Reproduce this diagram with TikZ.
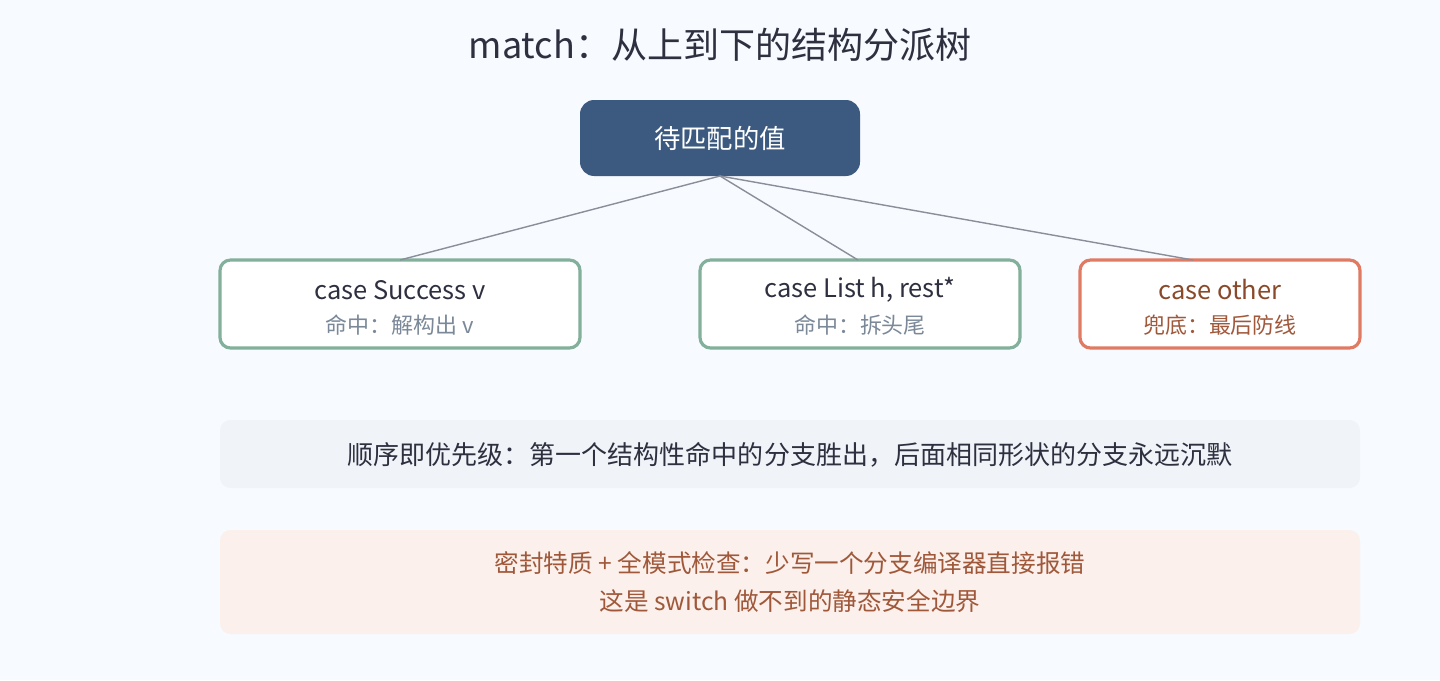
\documentclass[tikz,border=0pt]{standalone}
\usepackage{fontspec}
\setmainfont{Noto Sans CJK SC}
\definecolor{bg}{HTML}{F7FAFE}
\definecolor{root}{HTML}{3C5A80}
\definecolor{grn}{HTML}{82B09A}
\definecolor{org}{HTML}{E07A62}
\definecolor{gbar}{HTML}{F0F3F7}
\definecolor{pbar}{HTML}{FBF0EB}
\definecolor{dk}{HTML}{2E3040}
\definecolor{sub}{HTML}{7A8898}
\definecolor{otx}{HTML}{8A4A2A}
\definecolor{ptx}{HTML}{A0583A}
\definecolor{ln}{HTML}{8A8E9A}
\begin{document}
\begin{tikzpicture}[x=0.02cm,y=-0.02cm,
 box/.style={line width=1.8pt,fill=white,rounded corners=6pt},
 edge/.style={ln,line width=0.8pt}]
\fill[bg] (0,0) rectangle (1440,680);
\node[dk,font=\fontsize{20.5}{24}\selectfont] (t) at (720,45) {match：从上到下的结构分派树};
\fill[root,rounded corners=8pt] (580,100) rectangle (860,176);
\node[white,font=\fontsize{15}{17}\selectfont] (r) at (720,138) {待匹配的值};
\coordinate (rb) at (720,176);
\draw[box,draw=grn] (220,260) rectangle (580,348);
\draw[box,draw=grn] (700,260) rectangle (1020,348);
\draw[box,draw=org] (1080,260) rectangle (1360,348);
\coordinate (a) at (400,260);\coordinate (b) at (858,260);\coordinate (c) at (1193,260);
\draw[edge] (rb)--(a); \draw[edge] (rb)--(b); \draw[edge] (rb)--(c);
\node[dk,font=\fontsize{14.5}{16}\selectfont] (a1) at (400,290) {case Success v};
\node[sub,font=\fontsize{12.5}{14}\selectfont] (a2) at (400,325) {命中：解构出 v};
\node[dk,font=\fontsize{14.5}{16}\selectfont] (b1) at (860,290) {case List h, rest*};
\node[sub,font=\fontsize{12.5}{14}\selectfont] (b2) at (860,325) {命中：拆头尾};
\node[otx,font=\fontsize{14.5}{16}\selectfont] (c1) at (1220,290) {case other};
\node[ptx,font=\fontsize{12.5}{14}\selectfont] (c2) at (1220,325) {兜底：最后防线};
\fill[gbar,rounded corners=6pt] (220,420) rectangle (1360,488);
\node[dk,font=\fontsize{14.8}{16}\selectfont] (g) at (790,455) {顺序即优先级：第一个结构性命中的分支胜出，后面相同形状的分支永远沉默};
\fill[pbar,rounded corners=6pt] (220,530) rectangle (1360,634);
\node[ptx,font=\fontsize{14}{16}\selectfont] (p1) at (790,563) {密封特质 + 全模式检查：少写一个分支编译器直接报错};
\node[ptx,font=\fontsize{14}{16}\selectfont] (p2) at (790,601) {这是 switch 做不到的静态安全边界};
\end{tikzpicture}
\end{document}
